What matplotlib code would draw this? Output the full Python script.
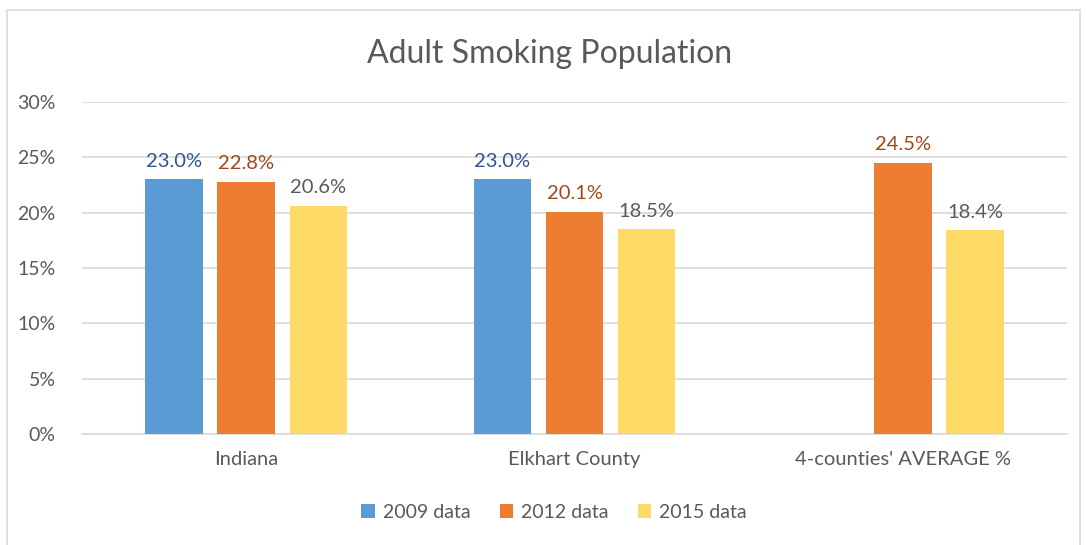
import numpy as np
import matplotlib
matplotlib.use("Agg")
import matplotlib.pyplot as plt
from matplotlib.patches import Rectangle

categories = ["Indiana", "Elkhart County", "4-counties' AVERAGE %"]
series_names = ["2009 data", "2012 data", "2015 data"]
v2009 = [0.230, 0.230, np.nan]
v2012 = [0.228, 0.201, 0.245]
v2015 = [0.206, 0.185, 0.184]
yticks = [0, 0.05, 0.10, 0.15, 0.20, 0.25, 0.30]
ytick_labels = ["0%", "5%", "10%", "15%", "20%", "25%", "30%"]

bar_colors = ["#5B9BD5", "#ED7D31", "#FFD966"]
label_colors = ["#2F5597", "#9C4A1C", "#595959"]
grey = "#595959"

plt.rcParams['font.family'] = ['Lato', 'DejaVu Sans']

W, H = 1086, 545
fig = plt.figure(figsize=(W / 100, H / 100), dpi=100)
fig.patch.set_facecolor("white")
fig.patches.append(Rectangle((7 / W, -0.01), (1080 - 7) / W, 1 - 10 / H + 0.01,
                             transform=fig.transFigure, fill=False,
                             edgecolor="#d9d9d9", linewidth=1.2))

ax = fig.add_axes([82 / W, 1 - 434 / H, (1067 - 82) / W, (434 - 102) / H])
x = np.arange(len(categories))
step = 0.22
width = 0.175
handles = []
for i, (vals, name) in enumerate(zip([v2009, v2012, v2015], series_names)):
    pos = x + (i - 1) * step
    b = ax.bar(pos, vals, width=width, color=bar_colors[i], label=name, zorder=3)
    handles.append(b)
    for p, v in zip(pos, vals):
        if not np.isnan(v):
            ax.annotate(f"{v * 100:.1f}%", (p, v), xytext=(0, 7),
                        textcoords="offset points", ha="center", va="bottom",
                        fontsize=14.5, color=label_colors[i], zorder=4)

ax.set_xlim(-0.5, 2.5)
ax.set_ylim(0, 0.30)
ax.set_yticks(yticks)
ax.set_yticklabels(ytick_labels, fontsize=14, color=grey)
ax.set_xticks(x)
ax.set_xticklabels(categories, fontsize=14.5, color=grey)
ax.tick_params(axis="both", length=0)
ax.tick_params(axis="y", pad=19)
ax.tick_params(axis="x", pad=12)
ax.grid(axis="y", color="#d9d9d9", linewidth=1.2, zorder=0)
for s in ["top", "right", "left"]:
    ax.spines[s].set_visible(False)
ax.spines["bottom"].set_color("#d9d9d9")
ax.spines["bottom"].set_linewidth(1.2)

fig.text(550 / W, 1 - 54 / H, "Adult Smoking Population", ha="center", va="center",
         fontsize=23, color=grey)

fig.legend(handles=handles, labels=series_names, loc="center",
           bbox_to_anchor=(554 / W, 1 - 512 / H), ncol=3, frameon=False,
           fontsize=14, labelcolor=grey, handlelength=0.7, handleheight=0.7,
           handletextpad=0.4, columnspacing=1.5)

fig.savefig("out.png", dpi=100)
